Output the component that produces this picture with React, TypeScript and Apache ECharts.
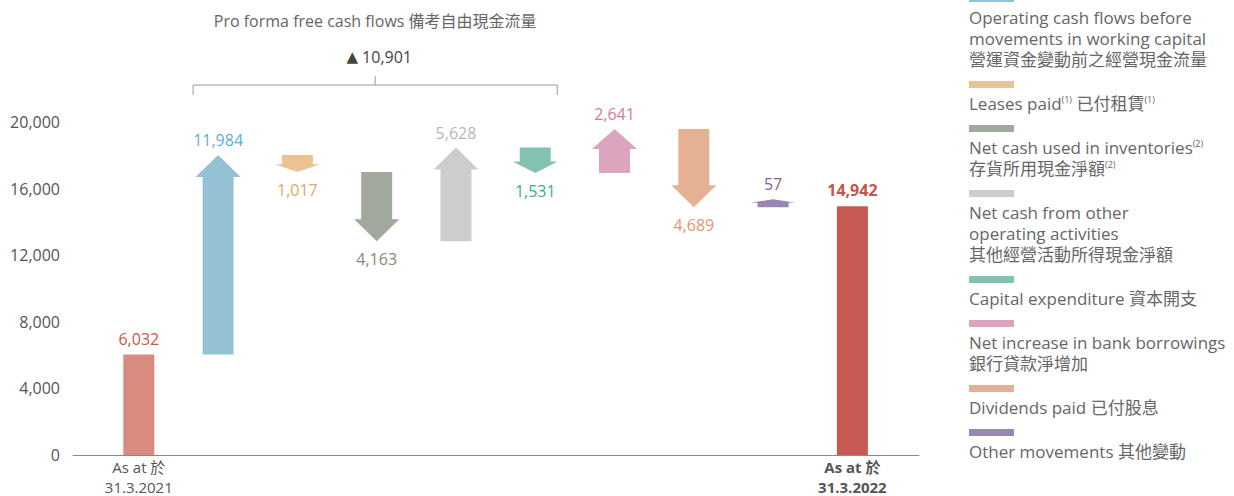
import React, { useEffect, useRef } from "react";
import * as echarts from "echarts";

// ---------- data ----------
const openingLabel = "As at 於\n31.3.2021";
const closingLabel = "As at 於\n31.3.2022";
const openingBalance = 6032;
const closingBalance = 14942;
const movementNames: string[][] = [
  ["Operating cash flows before", "movements in working capital", "營運資金變動前之經營現金流量"],
  ["Leases paid{s|(1)} 已付租賃{s|(1)}"],
  ["Net cash used in inventories{s|(2)}", "存貨所用現金淨額{s|(2)}"],
  ["Net cash from other", "operating activities", "其他經營活動所得現金淨額"],
  ["Capital expenditure 資本開支"],
  ["Net increase in bank borrowings", "銀行貸款淨增加"],
  ["Dividends paid 已付股息"],
  ["Other movements 其他變動"],
];
const movementValues = [11984, -1017, -4163, 5628, -1531, 2641, -4689, 57];
const proFormaTitle = "Pro forma free cash flows 備考自由現金流量";
const proFormaFirst = 0; // index in movementValues
const proFormaLast = 4;
const yMin = 0;
const yMax = 20000;
const yInterval = 4000;

// ---------- styles ----------
const FONT = "'Open Sans', 'Noto Sans CJK TC', 'Noto Sans CJK SC', sans-serif";
const openingColor = "#d88b7e";
const openingLabelColor = "#d0534a";
const closingColor = "#c75a52";
const closingLabelColor = "#c7534b";
const movementColors = ["#95c1d5", "#ebc393", "#a1a99c", "#cfcdcc", "#83c1b3", "#dca4bd", "#e5b195", "#9a86b3"];
const movementLabelColors = ["#5bb0d2", "#e2a764", "#7f8c79", "#b9b7b6", "#3daa93", "#d37a9f", "#e49670", "#7b65a2"];

const fmt = (v: number) => Math.abs(v).toLocaleString("en-US");

export default function App() {
  const ref = useRef<HTMLDivElement>(null);

  useEffect(() => {
    if (!ref.current) return;
    const chart = echarts.init(ref.current, undefined, { renderer: "svg" });

    // waterfall items: [x, start, end]
    const items: number[][] = [[0, 0, openingBalance]];
    const kinds: string[] = ["open"];
    let run = openingBalance;
    movementValues.forEach((v, i) => {
      items.push([i + 1, run, run + v]);
      kinds.push("move");
      run += v;
    });
    items.push([movementValues.length + 1, 0, closingBalance]);
    kinds.push("close");

    const proFormaSum = movementValues
      .slice(proFormaFirst, proFormaLast + 1)
      .reduce((a, b) => a + b, 0);

    const lastIdx = movementValues.length + 1;

    // legend graphic
    const legendEls: any[] = [];
    let sy = -5;
    movementNames.forEach((lines, i) => {
      legendEls.push({
        type: "rect",
        shape: { x: 969, y: sy, width: 45, height: 7 },
        style: { fill: movementColors[i] },
      });
      let ly = sy + 22;
      lines.forEach((ln, j) => {
        legendEls.push({
          type: "text",
          x: 969,
          y: ly,
          style: {
            text: ln,
            fill: "#666",
            fontSize: 17,
            fontFamily: FONT,
            align: "left",
            verticalAlign: "middle",
            rich: { s: { fontSize: 9, fill: "#666", fontFamily: FONT, verticalAlign: "top", lineHeight: 14 } },
          },
        });
        if (j < lines.length - 1) ly += 21;
      });
      sy = ly + 22;
    });

    chart.setOption({
      animation: false,
      grid: { left: 73, top: 122, right: 315, height: 333, outerBoundsMode: "none", containLabel: false },
      xAxis: {
        type: "value",
        min: -0.83,
        max: 9.84,
        splitLine: { show: false },
        axisTick: { show: false },
        axisLine: { show: true, onZero: false, lineStyle: { color: "#8a8a8a", width: 1.2 } },
        axisLabel: {
          customValues: [0, lastIdx],
          margin: 2,
          color: "#555",
          fontSize: 15,
          fontFamily: FONT,
          lineHeight: 20,
          formatter: (v: number) =>
            v === 0
              ? openingLabel.split("\n").map((s) => `{n|${s}}`).join("\n")
              : closingLabel.split("\n").map((s) => `{b|${s}}`).join("\n"),
          rich: {
            n: { fontSize: 15, color: "#555", fontFamily: FONT, lineHeight: 20 },
            b: { fontSize: 15, color: "#555", fontFamily: FONT, fontWeight: "bold", lineHeight: 20 },
          },
        },
      },
      yAxis: {
        type: "value",
        min: yMin,
        max: yMax,
        interval: yInterval,
        axisLine: { show: false },
        axisTick: { show: false },
        splitLine: { show: false },
        axisLabel: { color: "#555", fontSize: 16, fontFamily: FONT, margin: 13 },
      },
      graphic: { elements: legendEls },
      series: [
        {
          type: "custom",
          clip: false,
          data: items,
          renderItem: (params: any, api: any) => {
            const i = params.dataIndex;
            const x = api.value(0);
            const s = api.value(1);
            const e = api.value(2);
            const [cx, y0] = api.coord([x, s]);
            const y1 = api.coord([x, e])[1];
            const kind = kinds[i];
            const bw = 31;
            const hw = 45;
            const children: any[] = [];
            if (kind !== "move") {
              const fill = kind === "open" ? openingColor : closingColor;
              const lc = kind === "open" ? openingLabelColor : closingLabelColor;
              children.push({
                type: "rect",
                shape: { x: cx - bw / 2, y: y1, width: bw, height: y0 - y1 },
                style: { fill },
              });
              children.push({
                type: "text",
                x: cx,
                y: y1 - 16,
                style: {
                  text: fmt(e),
                  fill: lc,
                  fontSize: 16,
                  fontFamily: FONT,
                  fontWeight: kind === "close" ? "bold" : "normal",
                  align: "center",
                  verticalAlign: "middle",
                },
              });
            } else {
              const mi = i - 1;
              const up = e >= s;
              const len = Math.max(8, Math.abs(y1 - y0));
              const head = Math.min(22, len * 0.45);
              const tip = up ? y0 - len : y0 + len;
              const neck = up ? tip + head : tip - head;
              children.push({
                type: "polygon",
                shape: {
                  points: [
                    [cx - bw / 2, y0],
                    [cx + bw / 2, y0],
                    [cx + bw / 2, neck],
                    [cx + hw / 2, neck],
                    [cx, tip],
                    [cx - hw / 2, neck],
                    [cx - bw / 2, neck],
                  ],
                },
                style: { fill: movementColors[mi] },
              });
              children.push({
                type: "text",
                x: cx,
                y: up ? tip - 15 : tip + 18,
                style: {
                  text: fmt(e - s),
                  fill: movementLabelColors[mi],
                  fontSize: 16,
                  fontFamily: FONT,
                  align: "center",
                  verticalAlign: "middle",
                },
              });
            }
            return { type: "group", children };
          },
        },
        {
          type: "custom",
          clip: false,
          silent: true,
          data: [[proFormaFirst + 1, proFormaLast + 1, proFormaSum]],
          renderItem: (params: any, api: any) => {
            const xl = api.coord([api.value(0), 0])[0] - 25;
            const xr = api.coord([api.value(1), 0])[0] + 22;
            const top = api.coord([0, yMax])[1];
            const lineY = top - 37;
            const xm = (xl + xr) / 2;
            const sum = api.value(2);
            return {
              type: "group",
              children: [
                {
                  type: "polyline",
                  shape: { points: [[xl, lineY + 10], [xl, lineY], [xr, lineY], [xr, lineY + 10]] },
                  style: { stroke: "#999", lineWidth: 1, fill: "none" },
                },
                {
                  type: "line",
                  shape: { x1: xm, y1: lineY - 9, x2: xm, y2: lineY },
                  style: { stroke: "#999", lineWidth: 1 },
                },
                {
                  type: "text",
                  x: xm + 4,
                  y: lineY - 28,
                  style: {
                    text: `{t|▲} ${fmt(sum)}`,
                    fill: "#444",
                    fontSize: 16,
                    fontFamily: FONT,
                    align: "center",
                    verticalAlign: "middle",
                    rich: { t: { fontSize: 15, fill: "#444", fontFamily: "DejaVu Sans" } },
                  },
                },
                {
                  type: "text",
                  x: xm,
                  y: lineY - 64,
                  style: {
                    text: proFormaTitle,
                    fill: "#666",
                    fontSize: 16,
                    fontFamily: FONT,
                    align: "center",
                    verticalAlign: "middle",
                  },
                },
              ],
            };
          },
        },
      ],
    });

    return () => chart.dispose();
  }, []);

  return (
    <div
      ref={ref}
      style={{ position: "fixed", left: 0, top: 0, width: 1234, height: 496, background: "#fff" }}
    />
  );
}
